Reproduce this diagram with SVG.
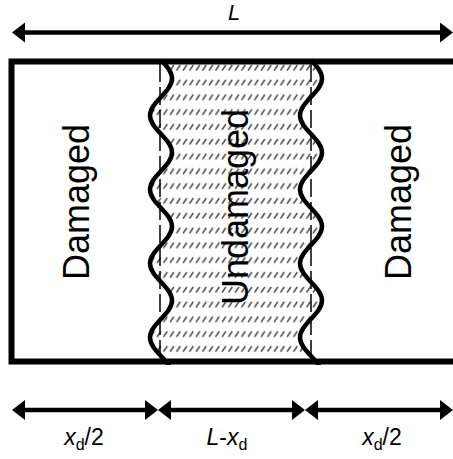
<svg xmlns="http://www.w3.org/2000/svg" width="453" height="459" viewBox="0 0 453 459">
  <style>
    .lbl { font-family: "Liberation Sans", Arial, sans-serif; fill: #000; }
    .big { font-size: 36px; }
    .dim { font-size: 23px; }
    .it { font-style: italic; }
    .wave { fill: none; stroke: #000; stroke-width: 4.5; }
    .dash { fill: none; stroke: #000; stroke-width: 1.5; stroke-dasharray: 18 5; }
    .arr { fill: none; stroke: #000; stroke-width: 4.5; marker-start: url(#ah); marker-end: url(#ah); }
  </style>
  <defs>
    <pattern id="hatch" patternUnits="userSpaceOnUse" width="6.5" height="14.8" x="0" y="64">
      <line x1="1" y1="6.5" x2="4.8" y2="1" stroke="#444" stroke-width="1.5"/>
    </pattern>
    <marker id="ah" markerUnits="userSpaceOnUse" markerWidth="14" markerHeight="22" refX="5" refY="10" orient="auto-start-reverse" viewBox="0 0 14 22">
      <path d="M0,0 L13,10 L0,20 Z" fill="#000"/>
    </marker>
    <clipPath id="inner">
      <rect x="0" y="58" width="453" height="307"/>
    </clipPath>
  </defs>

  <g id="undamaged">
    <rect x="140" y="61.5" width="190" height="300" fill="url(#hatch)"/>
    <path fill="#fff" d="M100,55 L161,55 L161,60 c 5.64,6.03 11,11.81 11,18.5 s -5.36,12.47 -11,18.5 s -11,11.81 -11,18.5 s 5.36,12.47 11,18.5 s 11,11.81 11,18.5 s -5.36,12.47 -11,18.5 s -11,11.81 -11,18.5 s 5.36,12.47 11,18.5 s 11,11.81 11,18.5 s -5.36,12.47 -11,18.5 s -11,11.81 -11,18.5 s 5.36,12.47 11,18.5 s 11,11.81 11,18.5 s -5.36,12.47 -11,18.5 s -11,11.81 -11,18.5 s 5.36,12.47 11,18.5 s 11,11.81 11,18.5 L100,380 Z"/>
    <path fill="#fff" d="M380,55 L311,55 L311,60 c 5.64,6.03 11,11.81 11,18.5 s -5.36,12.47 -11,18.5 s -11,11.81 -11,18.5 s 5.36,12.47 11,18.5 s 11,11.81 11,18.5 s -5.36,12.47 -11,18.5 s -11,11.81 -11,18.5 s 5.36,12.47 11,18.5 s 11,11.81 11,18.5 s -5.36,12.47 -11,18.5 s -11,11.81 -11,18.5 s 5.36,12.47 11,18.5 s 11,11.81 11,18.5 s -5.36,12.47 -11,18.5 s -11,11.81 -11,18.5 s 5.36,12.47 11,18.5 s 11,11.81 11,18.5 L380,380 Z"/>
    <line class="dash" x1="160" y1="64" x2="160" y2="359"/>
    <line class="dash" x1="311" y1="64" x2="311" y2="359"/>
    <g clip-path="url(#inner)">
      <path class="wave" d="M161,60 c 5.64,6.03 11,11.81 11,18.5 s -5.36,12.47 -11,18.5 s -11,11.81 -11,18.5 s 5.36,12.47 11,18.5 s 11,11.81 11,18.5 s -5.36,12.47 -11,18.5 s -11,11.81 -11,18.5 s 5.36,12.47 11,18.5 s 11,11.81 11,18.5 s -5.36,12.47 -11,18.5 s -11,11.81 -11,18.5 s 5.36,12.47 11,18.5 s 11,11.81 11,18.5 s -5.36,12.47 -11,18.5 s -11,11.81 -11,18.5 s 5.36,12.47 11,18.5 s 11,11.81 11,18.5"/>
      <path class="wave" d="M311,60 c 5.64,6.03 11,11.81 11,18.5 s -5.36,12.47 -11,18.5 s -11,11.81 -11,18.5 s 5.36,12.47 11,18.5 s 11,11.81 11,18.5 s -5.36,12.47 -11,18.5 s -11,11.81 -11,18.5 s 5.36,12.47 11,18.5 s 11,11.81 11,18.5 s -5.36,12.47 -11,18.5 s -11,11.81 -11,18.5 s 5.36,12.47 11,18.5 s 11,11.81 11,18.5 s -5.36,12.47 -11,18.5 s -11,11.81 -11,18.5 s 5.36,12.47 11,18.5 s 11,11.81 11,18.5"/>
    </g>
    <text class="lbl big" text-anchor="middle" transform="translate(248,207) rotate(-90)">Undamaged</text>
  </g>

  <g id="damaged-left">
    <text class="lbl big" text-anchor="middle" transform="translate(89,202) rotate(-90)">Damaged</text>
  </g>

  <g id="damaged-right">
    <text class="lbl big" text-anchor="middle" transform="translate(411,202) rotate(-90)">Damaged</text>
  </g>

  <g id="bar-outline">
    <path d="M460,61.5 H11.5 V361.5 H460" fill="none" stroke="#000" stroke-width="6"/>
  </g>

  <g id="connectors">
    <line class="arr" x1="20" y1="32.5" x2="445" y2="32.5"/>
    <line class="arr" x1="20" y1="410" x2="150" y2="410"/>
    <line class="arr" x1="166" y1="410" x2="297" y2="410"/>
    <line class="arr" x1="313" y1="410" x2="445" y2="410"/>
  </g>

  <g id="labels">
    <text class="lbl it" x="234" y="20" font-size="22" text-anchor="middle">L</text>
    <text class="lbl dim" x="84" y="445" text-anchor="middle"><tspan class="it">x</tspan><tspan font-size="16" dy="5">d</tspan><tspan dy="-5">/2</tspan></text>
    <text class="lbl dim" x="227" y="445" text-anchor="middle"><tspan class="it">L</tspan>-<tspan class="it">x</tspan><tspan font-size="16" dy="5">d</tspan></text>
    <text class="lbl dim" x="382" y="445" text-anchor="middle"><tspan class="it">x</tspan><tspan font-size="16" dy="5">d</tspan><tspan dy="-5">/2</tspan></text>
  </g>
</svg>
